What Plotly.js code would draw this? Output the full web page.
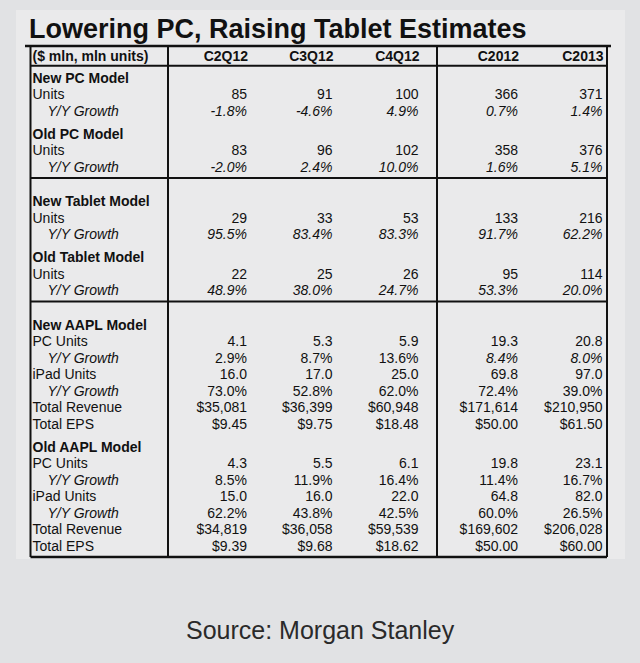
<!DOCTYPE html>
<html>
<head>
<meta charset="utf-8">
<script src="https://cdn.plot.ly/plotly-3.0.1.min.js"></script>
<style>html,body{margin:0;padding:0;background:#e1e2e4;}#chart{width:640px;height:663px;}</style>
</head>
<body>
<div id="chart"></div>
<script>
// ---------- DATA ----------
const columns = ['C2Q12', 'C3Q12', 'C4Q12', 'C2012', 'C2013'];
const unitLabel = '($ mln, mln units)';

const newPcUnits  = [85, 91, 100, 366, 371];
const newPcGrowth = [-1.8, -4.6, 4.9, 0.7, 1.4];
const oldPcUnits  = [83, 96, 102, 358, 376];
const oldPcGrowth = [-2.0, 2.4, 10.0, 1.6, 5.1];

const newTabUnits  = [29, 33, 53, 133, 216];
const newTabGrowth = [95.5, 83.4, 83.3, 91.7, 62.2];
const oldTabUnits  = [22, 25, 26, 95, 114];
const oldTabGrowth = [48.9, 38.0, 24.7, 53.3, 20.0];

const newAaplPcUnits   = [4.1, 5.3, 5.9, 19.3, 20.8];
const newAaplPcGrowth  = [2.9, 8.7, 13.6, 8.4, 8.0];
const newAaplIpad      = [16.0, 17.0, 25.0, 69.8, 97.0];
const newAaplIpadGrowth= [73.0, 52.8, 62.0, 72.4, 39.0];
const newAaplRevenue   = [35081, 36399, 60948, 171614, 210950];
const newAaplEps       = [9.45, 9.75, 18.48, 50.00, 61.50];

const oldAaplPcUnits   = [4.3, 5.5, 6.1, 19.8, 23.1];
const oldAaplPcGrowth  = [8.5, 11.9, 16.4, 11.4, 16.7];
const oldAaplIpad      = [15.0, 16.0, 22.0, 64.8, 82.0];
const oldAaplIpadGrowth= [62.2, 43.8, 42.5, 60.0, 26.5];
const oldAaplRevenue   = [34819, 36058, 59539, 169602, 206028];
const oldAaplEps       = [9.39, 9.68, 18.62, 50.00, 60.00];

// ---------- FORMATTERS ----------
const fmt = {
  int: v => String(v),
  dec1: v => v.toFixed(1),
  pct: v => v.toFixed(1) + '%',
  usd: v => '$' + v.toLocaleString('en-US'),
  eps: v => '$' + v.toFixed(2)
};
const ALL = [true, true, true, true, true];
const NONE = [false, false, false, false, false];
const YEARS = [false, false, false, true, true];

// table structure: blocks of sections
const blocks = [
  [
    {head: 'New PC Model', rows: [
      {label: 'Units', vals: newPcUnits, f: 'int'},
      {label: 'Y/Y Growth', vals: newPcGrowth, f: 'pct', sub: true, it: ALL}]},
    {head: 'Old PC Model', rows: [
      {label: 'Units', vals: oldPcUnits, f: 'int'},
      {label: 'Y/Y Growth', vals: oldPcGrowth, f: 'pct', sub: true, it: ALL}]}
  ],
  [
    {head: 'New Tablet Model', rows: [
      {label: 'Units', vals: newTabUnits, f: 'int'},
      {label: 'Y/Y Growth', vals: newTabGrowth, f: 'pct', sub: true, it: ALL}]},
    {head: 'Old Tablet Model', rows: [
      {label: 'Units', vals: oldTabUnits, f: 'int'},
      {label: 'Y/Y Growth', vals: oldTabGrowth, f: 'pct', sub: true, it: ALL}]}
  ],
  [
    {head: 'New AAPL Model', rows: [
      {label: 'PC Units', vals: newAaplPcUnits, f: 'dec1'},
      {label: 'Y/Y Growth', vals: newAaplPcGrowth, f: 'pct', sub: true, it: YEARS},
      {label: 'iPad Units', vals: newAaplIpad, f: 'dec1'},
      {label: 'Y/Y Growth', vals: newAaplIpadGrowth, f: 'pct', sub: true, it: NONE},
      {label: 'Total Revenue', vals: newAaplRevenue, f: 'usd'},
      {label: 'Total EPS', vals: newAaplEps, f: 'eps'}]},
    {head: 'Old AAPL Model', rows: [
      {label: 'PC Units', vals: oldAaplPcUnits, f: 'dec1'},
      {label: 'Y/Y Growth', vals: oldAaplPcGrowth, f: 'pct', sub: true, it: NONE},
      {label: 'iPad Units', vals: oldAaplIpad, f: 'dec1'},
      {label: 'Y/Y Growth', vals: oldAaplIpadGrowth, f: 'pct', sub: true, it: NONE},
      {label: 'Total Revenue', vals: oldAaplRevenue, f: 'usd'},
      {label: 'Total EPS', vals: oldAaplEps, f: 'eps'}]}
  ]
];

// ---------- LAYOUT GEOMETRY (pixel-space axes) ----------
const W = 640, H = 663;
const colRight = [247, 332.5, 418.5, 518, 602.5];
const labelX = 32.5, subX = 47.5;
const headerY = 57;
const firstY = 79, pitch = 16.5, secGap = 6.5, blockGap = 18, sepOff = 10;
const ink = '#111111';
const font = 'Liberation Sans, Arial, sans-serif';
const fs = 14;

// compute row y positions
const labX = [], labY = [], labT = [];
const valY = [], valT = [[], [], [], [], []];
const sepYs = [];
let y = firstY;
blocks.forEach((blk, bi) => {
  if (bi > 0) { sepYs.push(y + sepOff); y += pitch + blockGap; }
  blk.forEach((sec, si) => {
    if (si > 0) y += pitch + secGap;
    labX.push(labelX); labY.push(y); labT.push('<b>' + sec.head + '</b>');
    sec.rows.forEach(r => {
      y += pitch;
      labX.push(r.sub ? subX : labelX); labY.push(y);
      labT.push(r.sub ? '<i>' + r.label + '</i>' : r.label);
      valY.push(y);
      r.vals.forEach((v, c) => {
        let s = fmt[r.f](v);
        if (r.it && r.it[c]) s = '<i>' + s + '</i>';
        valT[c].push(s);
      });
    });
  });
});
const bottomY = y + sepOff;

const traces = [];
// header row
traces.push({
  type: 'scatter', mode: 'text', x: [labelX], y: [headerY],
  text: ['<b>' + unitLabel + '</b>'], textposition: 'middle right',
  textfont: {family: font, size: fs, color: ink}, hoverinfo: 'skip', showlegend: false, cliponaxis: false
});
traces.push({
  type: 'scatter', mode: 'text', x: colRight.map(v => v + 1), y: columns.map(() => headerY),
  text: columns.map(c => '<b>' + c + '</b>'), textposition: 'middle left',
  textfont: {family: font, size: fs, color: ink}, hoverinfo: 'skip', showlegend: false, cliponaxis: false
});
// row labels
traces.push({
  type: 'scatter', mode: 'text', x: labX, y: labY, text: labT, textposition: 'middle right',
  textfont: {family: font, size: fs, color: ink}, hoverinfo: 'skip', showlegend: false, cliponaxis: false
});
// values
columns.forEach((c, i) => {
  traces.push({
    type: 'scatter', mode: 'text', x: valY.map(() => colRight[i]), y: valY, text: valT[i],
    textposition: 'middle left', textfont: {family: font, size: fs, color: ink},
    hoverinfo: 'skip', showlegend: false, cliponaxis: false
  });
});

const line = (x0, y0, x1, y1, w) => ({type: 'line', xref: 'x', yref: 'y', x0, y0, x1, y1,
  line: {color: ink, width: w || 2}});
const boxL = 30.5, boxR = 607, topY = 46;
const shapes = [
  {type: 'rect', xref: 'x', yref: 'y', x0: 16, x1: 625, y0: 10, y1: 559,
   fillcolor: '#eaeaeb', line: {width: 0}, layer: 'below'},
  line(25, topY, 611, topY, 2.5),
  line(boxL, topY, boxL, bottomY),
  line(boxR, topY, boxR, bottomY),
  line(168, topY, 168, bottomY),
  line(437, topY, 437, bottomY),
  line(boxL, 65.7, boxR, 65.7),
  line(boxL, bottomY, boxR, bottomY, 2.5)
];
sepYs.forEach(s => shapes.push(line(boxL, s, boxR, s)));

const layout = {
  width: W, height: H,
  margin: {l: 0, r: 0, t: 0, b: 0, pad: 0},
  paper_bgcolor: '#e1e2e4', plot_bgcolor: 'rgba(0,0,0,0)',
  xaxis: {range: [0, W], visible: false, fixedrange: true},
  yaxis: {range: [H, 0], visible: false, fixedrange: true},
  title: {text: 'Lowering PC, Raising Tablet Estimates', x: 29 / W, xanchor: 'left', xref: 'paper',
          y: 1 - 29 / H, yanchor: 'middle', yref: 'paper',
          font: {family: font, size: 27, weight: 'bold', color: ink}},
  shapes: shapes,
  annotations: [{text: 'Source: Morgan Stanley', xref: 'paper', yref: 'paper', x: 0.5, y: 1 - 630 / H,
    xanchor: 'center', yanchor: 'middle', showarrow: false,
    font: {family: font, size: 25, color: '#2a2a2a'}}],
  showlegend: false
};

Plotly.newPlot('chart', traces, layout, {staticPlot: true, displayModeBar: false});
</script>
</body>
</html>
